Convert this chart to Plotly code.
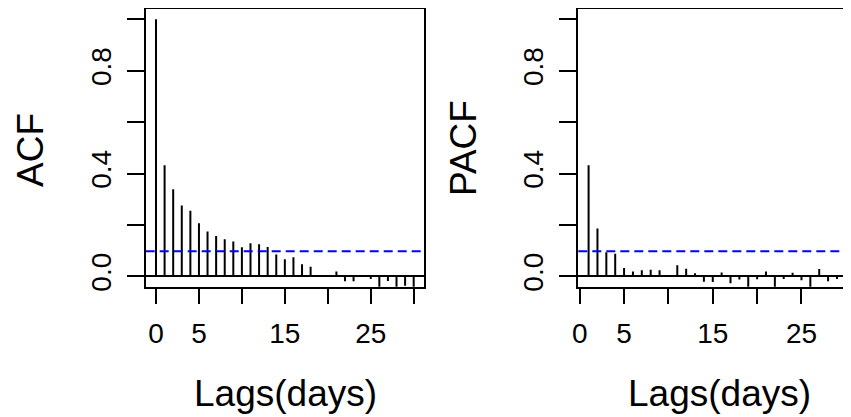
import plotly.graph_objects as go

# ---- data ----
acf_lags = list(range(0, 31))
acf_vals = [1.0, 0.432, 0.339, 0.276, 0.255, 0.207, 0.175, 0.157, 0.145, 0.136,
            0.113, 0.129, 0.125, 0.114, 0.085, 0.067, 0.075, 0.047, 0.038, 0.002,
            0.004, 0.019, -0.019, -0.019, -0.002, -0.010, -0.045, -0.018, -0.042,
            -0.036, -0.045]
pacf_lags = list(range(1, 31))
pacf_vals = [0.432, 0.186, 0.094, 0.088, 0.033, 0.019, 0.024, 0.026, 0.024, 0.005,
             0.043, 0.030, 0.012, -0.021, -0.022, 0.015, -0.027, -0.012, -0.045, -0.011,
             0.019, -0.045, -0.010, 0.014, -0.015, -0.045, 0.029, -0.019, -0.010, -0.010]
ci_level = 0.098
x_tickvals = [0, 5, 10, 15, 20, 25, 30]
x_ticktext = ["0", "5", "", "15", "", "25", ""]
y_tickvals = [0.0, 0.2, 0.4, 0.6, 0.8, 1.0]
y_ticktext = ["0.0", "", "0.4", "", "0.8", ""]
x_title = "Lags(days)"
y_titles = ["ACF", "PACF"]

OFF = 8  # default page body margin
W, H = 851 - OFF, 417 - OFF
FONT = "Liberation Sans, Arial, sans-serif"


def px_x(p):
    return (p - OFF) / W


def px_y(p):
    return 1 - (p - OFF) / H


def segs(lags, vals):
    xs, ys = [], []
    for l, v in zip(lags, vals):
        xs += [l, l, None]
        ys += [0, v, None]
    return xs, ys


fig = go.Figure()
for lags, vals, xa, ya in [(acf_lags, acf_vals, "x", "y"), (pacf_lags, pacf_vals, "x2", "y2")]:
    xs, ys = segs(lags, vals)
    fig.add_trace(go.Scatter(x=xs, y=ys, mode="lines", xaxis=xa, yaxis=ya,
                             line=dict(color="black", width=2), showlegend=False,
                             hoverinfo="skip"))

for xr, yr in [("x domain", "y"), ("x2 domain", "y2")]:
    fig.add_shape(type="line", xref=xr, yref=yr, x0=0, x1=1, y0=ci_level, y1=ci_level,
                  line=dict(color="#0000ff", width=2, dash="9px,5px"))

ydom = [px_y(286.7), px_y(9)]
common_x = dict(tickvals=x_tickvals, ticktext=x_ticktext, ticks="outside", ticklen=15,
                tickwidth=2, tickcolor="black", showline=True, linewidth=2,
                linecolor="black", mirror=True, showgrid=False, zeroline=False,
                tickfont=dict(family=FONT, size=28, color="black"),
                ticklabelstandoff=6, automargin=False)
common_y = dict(range=[-0.04, 1.04], domain=ydom, tickvals=y_tickvals,
                ticktext=y_ticktext, tickangle=-90, ticks="outside", ticklen=17,
                tickwidth=2, tickcolor="black", showline=True, linewidth=2,
                linecolor="black", showgrid=False, zeroline=True,
                zerolinecolor="black", zerolinewidth=2,
                tickfont=dict(family=FONT, size=28, color="black"),
                ticklabelstandoff=5, automargin=False)


def ann(text, x, y, angle=0):
    return dict(text=text, x=px_x(x), y=px_y(y), xref="paper", yref="paper",
                xanchor="center", yanchor="middle", textangle=angle, showarrow=False,
                font=dict(family=FONT, size=37, color="black"))


fig.update_layout(
    template="none",
    width=W, height=H, margin=dict(l=0, r=0, t=0, b=0, pad=0),
    paper_bgcolor="white", plot_bgcolor="white",
    xaxis=dict(domain=[px_x(145.7), px_x(424)], range=[-1.2, 31.2], anchor="y", **common_x),
    yaxis=dict(anchor="x", mirror=True, **common_y),
    xaxis2=dict(domain=[px_x(578.3), 1.0], range=[-0.16, -0.16 + (851 - 578.3) / 8.87],
                anchor="y2", **common_x),
    yaxis2=dict(anchor="x2", mirror=False, **common_y),
    annotations=[
        ann(y_titles[0], 31, 150, -90),
        ann(y_titles[1], 463, 148, -90),
        ann(x_title, 285, 393),
        ann(x_title, 719, 393),
    ],
)

fig.write_html("out.html")
